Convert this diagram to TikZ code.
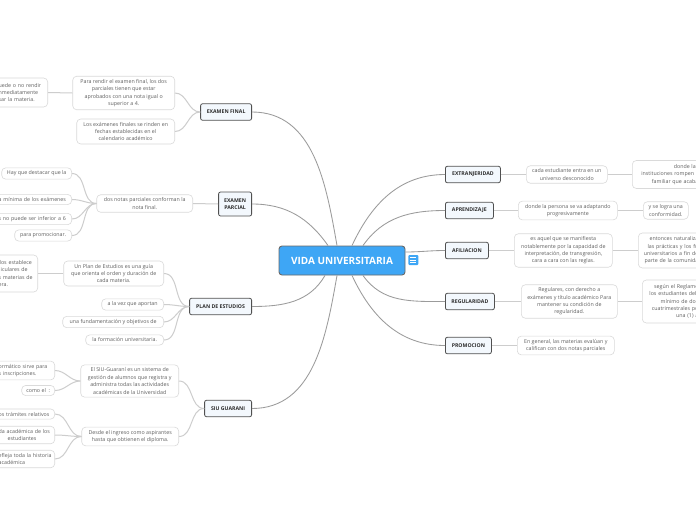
\documentclass[tikz,border=0pt]{standalone}
\usepackage{fontspec}
\setmainfont{Open Sans}
\usetikzlibrary{positioning, calc}
\definecolor{rootblue}{RGB}{62,166,245}
\definecolor{rootedge}{RGB}{105,105,105}
\definecolor{topicfill}{RGB}{243,248,253}
\definecolor{topicedge}{RGB}{80,80,80}
\definecolor{topictext}{RGB}{45,45,45}
\definecolor{leafedge}{RGB}{218,218,218}
\definecolor{leaftext}{RGB}{95,95,95}
\definecolor{mainline}{RGB}{155,155,155}
\definecolor{subline}{RGB}{205,205,205}
\tikzset{
  rootbox/.style={rectangle, draw=rootedge, fill=rootblue, text=white,
    rounded corners=3pt, line width=0.9pt, minimum width=126pt, minimum height=29pt,
    font=\fontsize{10}{12}\selectfont\bfseries},
  topicbox/.style={rectangle, draw=topicedge, fill=topicfill, text=topictext,
    rounded corners=2pt, line width=0.8pt, minimum height=16.5pt, inner xsep=3pt,
    align=center, font=\fontsize{5.2}{7}\selectfont\bfseries},
  leafbox/.style={rectangle, draw=leafedge, fill=white, text=leaftext,
    rounded corners=4pt, line width=0.6pt, inner xsep=3pt, inner ysep=3pt,
    align=center, font=\fontsize{5.3}{7.4}\selectfont},
  clipleft/.style={leafbox, align=left, text width=#1},
  clipright/.style={leafbox, align=right, text width=#1},
  mainlink/.style={draw=mainline, line width=0.85pt},
  sublink/.style={draw=subline, line width=1pt},
  noteicon/.style={rectangle, fill=rootblue, rounded corners=1pt, minimum size=10pt, inner sep=0pt}
}
\begin{document}
\begin{tikzpicture}[x=1pt, y=1pt]
  \useasboundingbox (0,0) rectangle (696,-520);
  \fill[white] (0,0) rectangle (696,-520);
  \clip (0,0) rectangle (696,-520);

  % centro
  \node[rootbox] (root) at (342,-260.5) {VIDA UNIVERSITARIA};
  \node[noteicon] (icon) at (413.3,-260) {};
  \foreach \dy in {-2.6,0,2.6}
    \draw[white, line width=0.7pt] ([xshift=-3pt, yshift=\dy pt]icon.center) -- ([xshift=3pt, yshift=\dy pt]icon.center);

  % ramas izquierda
  \node[topicbox, anchor=east, minimum width=51pt] (ef) at (252,-112) {EXAMEN FINAL};
  \node[topicbox, anchor=east, minimum width=33pt, minimum height=24pt] (ep) at (252,-204) {EXAMEN\\PARCIAL};
  \node[topicbox, anchor=east, minimum width=62pt] (pe) at (252,-306.5) {PLAN DE ESTUDIOS};
  \node[topicbox, anchor=east, minimum width=47pt] (sg) at (252,-408.5) {SIU GUARANI};

  % ramas derecha
  \node[topicbox, anchor=west, minimum width=55pt] (ex) at (445,-174.5) {EXTRANJERIDAD};
  \node[topicbox, anchor=west, minimum width=48pt] (ap) at (445,-210.5) {APRENDIZAJE};
  \node[topicbox, anchor=west, minimum width=43pt] (af) at (445,-250.5) {AFILIACION};
  \node[topicbox, anchor=west, minimum width=49pt] (rg) at (445,-301.5) {REGULARIDAD};
  \node[topicbox, anchor=west, minimum width=46pt] (pr) at (445,-345.5) {PROMOCION};

  % examen final
  \node[leafbox, anchor=east, minimum width=102pt] (fin1) at (175,-93) {Para rendir el examen final, los dos\\parciales tienen que estar\\aprobados con una nota igual o\\superior a 4.};
  \node[leafbox, anchor=east, minimum width=98pt] (fin2) at (175,-131.5) {Los exámenes finales se rinden en\\fechas establecidas en el\\calendario académico};
  \node[clipleft=46pt, anchor=east, minimum height=29pt] (fin1a) at (48,-92.5) {uede o no rendir\\nmediatamente\\sar la materia.};

  % examen parcial
  \node[leafbox, anchor=east, minimum width=96pt] (par1) at (193,-203.5) {dos notas parciales conforman la\\nota final.};
  \node[leafbox, anchor=east, minimum width=70pt] (par1a) at (72,-173.5) {Hay que destacar que la};
  \node[clipleft=70pt, anchor=east] (par1b) at (72,-199.5) {a mínima de los exámenes};
  \node[clipleft=70pt, anchor=east] (par1c) at (72,-219) {s no puede ser inferior a 6};
  \node[leafbox, anchor=east, minimum width=57pt] (par1d) at (72,-235.5) {para promocionar.};

  % plan de estudios
  \node[leafbox, anchor=east, minimum width=100pt] (plan1) at (164,-273.5) {Un Plan de Estudios es una guía\\que orienta el orden y duración de\\cada materia.};
  \node[leafbox, anchor=east, minimum width=62pt] (plan2) at (164,-304.5) {a la vez que aportan};
  \node[leafbox, anchor=east, minimum width=101pt] (plan3) at (164,-322) {una fundamentación y objetivos de};
  \node[leafbox, anchor=east, minimum width=78pt] (plan4) at (164,-340) {la formación universitaria.};
  \node[clipleft=36pt, anchor=east, minimum height=37pt] (plan1a) at (38,-273.5) {\hspace*{1pt}los establece\\\hspace*{2pt}iculares de\\s materias de\\era.};

  % siu guarani
  \node[leafbox, anchor=east, minimum width=98pt] (siu1) at (179,-381) {El SIU-Guaraní es un sistema de\\gestión de alumnos que registra y\\administra todas las actividades\\académicas de la Universidad};
  \node[leafbox, anchor=east, minimum width=97pt] (siu2) at (179,-436.5) {Desde el ingreso como aspirantes\\hasta que obtienen el diploma.};
  \node[clipleft=53pt, anchor=east] (siu1a) at (55,-370.5) {ormático sirve para\\s inscripciones.};
  \node[leafbox, anchor=east, minimum width=33pt] (siu1b) at (55,-390.5) {como el~~:};
  \node[clipleft=53pt, anchor=east] (siu2a) at (55,-414) {os trámites relativos};
  \node[clipleft=53pt, anchor=east] (siu2b) at (55,-435) {da académica de los\\\hspace*{9pt}estudiantes};
  \node[clipleft=53pt, anchor=east] (siu2c) at (55,-459) {efleja toda la historia\\académica};

  % derecha
  \node[leafbox, anchor=west, minimum width=81pt] (ext1) at (526,-174.5) {cada estudiante entra en un\\universo desconocido};
  \node[clipright=63pt, anchor=west, minimum height=28pt] (ext2) at (632,-174.5) {donde las\\instituciones rompen c\\familiar que acaba};
  \node[leafbox, anchor=west, minimum width=99pt] (apr1) at (518,-210.5) {donde la persona se va adaptando\\progresivamente};
  \node[leafbox, anchor=west, minimum width=45pt] (apr2) at (643,-210.5) {y se logra una\\conformidad.};
  \node[leafbox, anchor=west, minimum width=98pt] (afi1) at (514,-250.5) {es aquel que se manifiesta\\notablemente por la capacidad de\\interpretación, de transgresión,\\cara a cara con las reglas.};
  \node[clipright=57pt, anchor=west, minimum height=35pt] (afi2) at (638,-250.5) {entonces naturaliza\\las prácticas y los fu\\universitarios a fin de\\parte de la comunida};
  \node[leafbox, anchor=west, minimum width=96pt] (reg1) at (521,-301.5) {Regulares, con derecho a\\exámenes y título académico Para\\mantener su condición de\\regularidad.};
  \node[clipright=53pt, anchor=west, minimum height=43pt] (reg2) at (642,-301.5) {según el Reglame\\los estudiantes deb\\mínimo de dos\\cuatrimestrales po\\una (1) a};
  \node[leafbox, anchor=west, minimum width=97pt] (pro1) at (517,-345.5) {En general, las materias evalúan y\\califican con dos notas parciales};

  % conectores del centro
  \draw[mainlink] ([xshift=-5pt]root.north) to[out=100, in=0] (ef.east);
  \draw[mainlink] ([xshift=-14pt]root.north) to[out=125, in=0] (ep.east);
  \draw[mainlink] ([xshift=-17pt]root.south) to[out=-120, in=0] (pe.east);
  \draw[mainlink] ([xshift=-5pt]root.south) to[out=-100, in=0] (sg.east);
  \draw[mainlink] ([xshift=10pt]root.north) to[out=65, in=180] (ex.west);
  \draw[mainlink] ([xshift=21pt]root.north) to[out=55, in=180] (ap.west);
  \draw[mainlink] ([yshift=8.5pt]root.east) to[out=0, in=180] (af.west);
  \draw[mainlink] ([xshift=21pt]root.south) to[out=-55, in=180] (rg.west);
  \draw[mainlink] ([xshift=10pt]root.south) to[out=-65, in=180] (pr.west);

  % conectores izquierda
  \foreach \n in {fin1,fin2}
    \draw[sublink] (ef.west) to[out=180, in=0] (\n.east);
  \draw[sublink] (fin1.west) -- (fin1a.east);
  \draw[sublink] (ep.west) -- (par1.east);
  \foreach \n in {par1a,par1b,par1c,par1d}
    \draw[sublink] (par1.west) to[out=180, in=0] (\n.east);
  \foreach \n in {plan1,plan2,plan3,plan4}
    \draw[sublink] (pe.west) to[out=180, in=0] (\n.east);
  \draw[sublink] (plan1.west) -- (plan1a.east);
  \foreach \n in {siu1,siu2}
    \draw[sublink] (sg.west) to[out=180, in=0] (\n.east);
  \foreach \n in {siu1a,siu1b}
    \draw[sublink] (siu1.west) to[out=180, in=0] (\n.east);
  \foreach \n in {siu2a,siu2b,siu2c}
    \draw[sublink] (siu2.west) to[out=180, in=0] (\n.east);

  % conectores derecha
  \draw[sublink] (ex.east) -- (ext1.west);
  \draw[sublink] (ext1.east) -- (ext2.west);
  \draw[sublink] (ap.east) -- (apr1.west);
  \draw[sublink] (apr1.east) -- (apr2.west);
  \draw[sublink] (af.east) -- (afi1.west);
  \draw[sublink] (afi1.east) -- (afi2.west);
  \draw[sublink] (rg.east) -- (reg1.west);
  \draw[sublink] (reg1.east) -- (reg2.west);
  \draw[sublink] (pr.east) -- (pro1.west);
\end{tikzpicture}
\end{document}
